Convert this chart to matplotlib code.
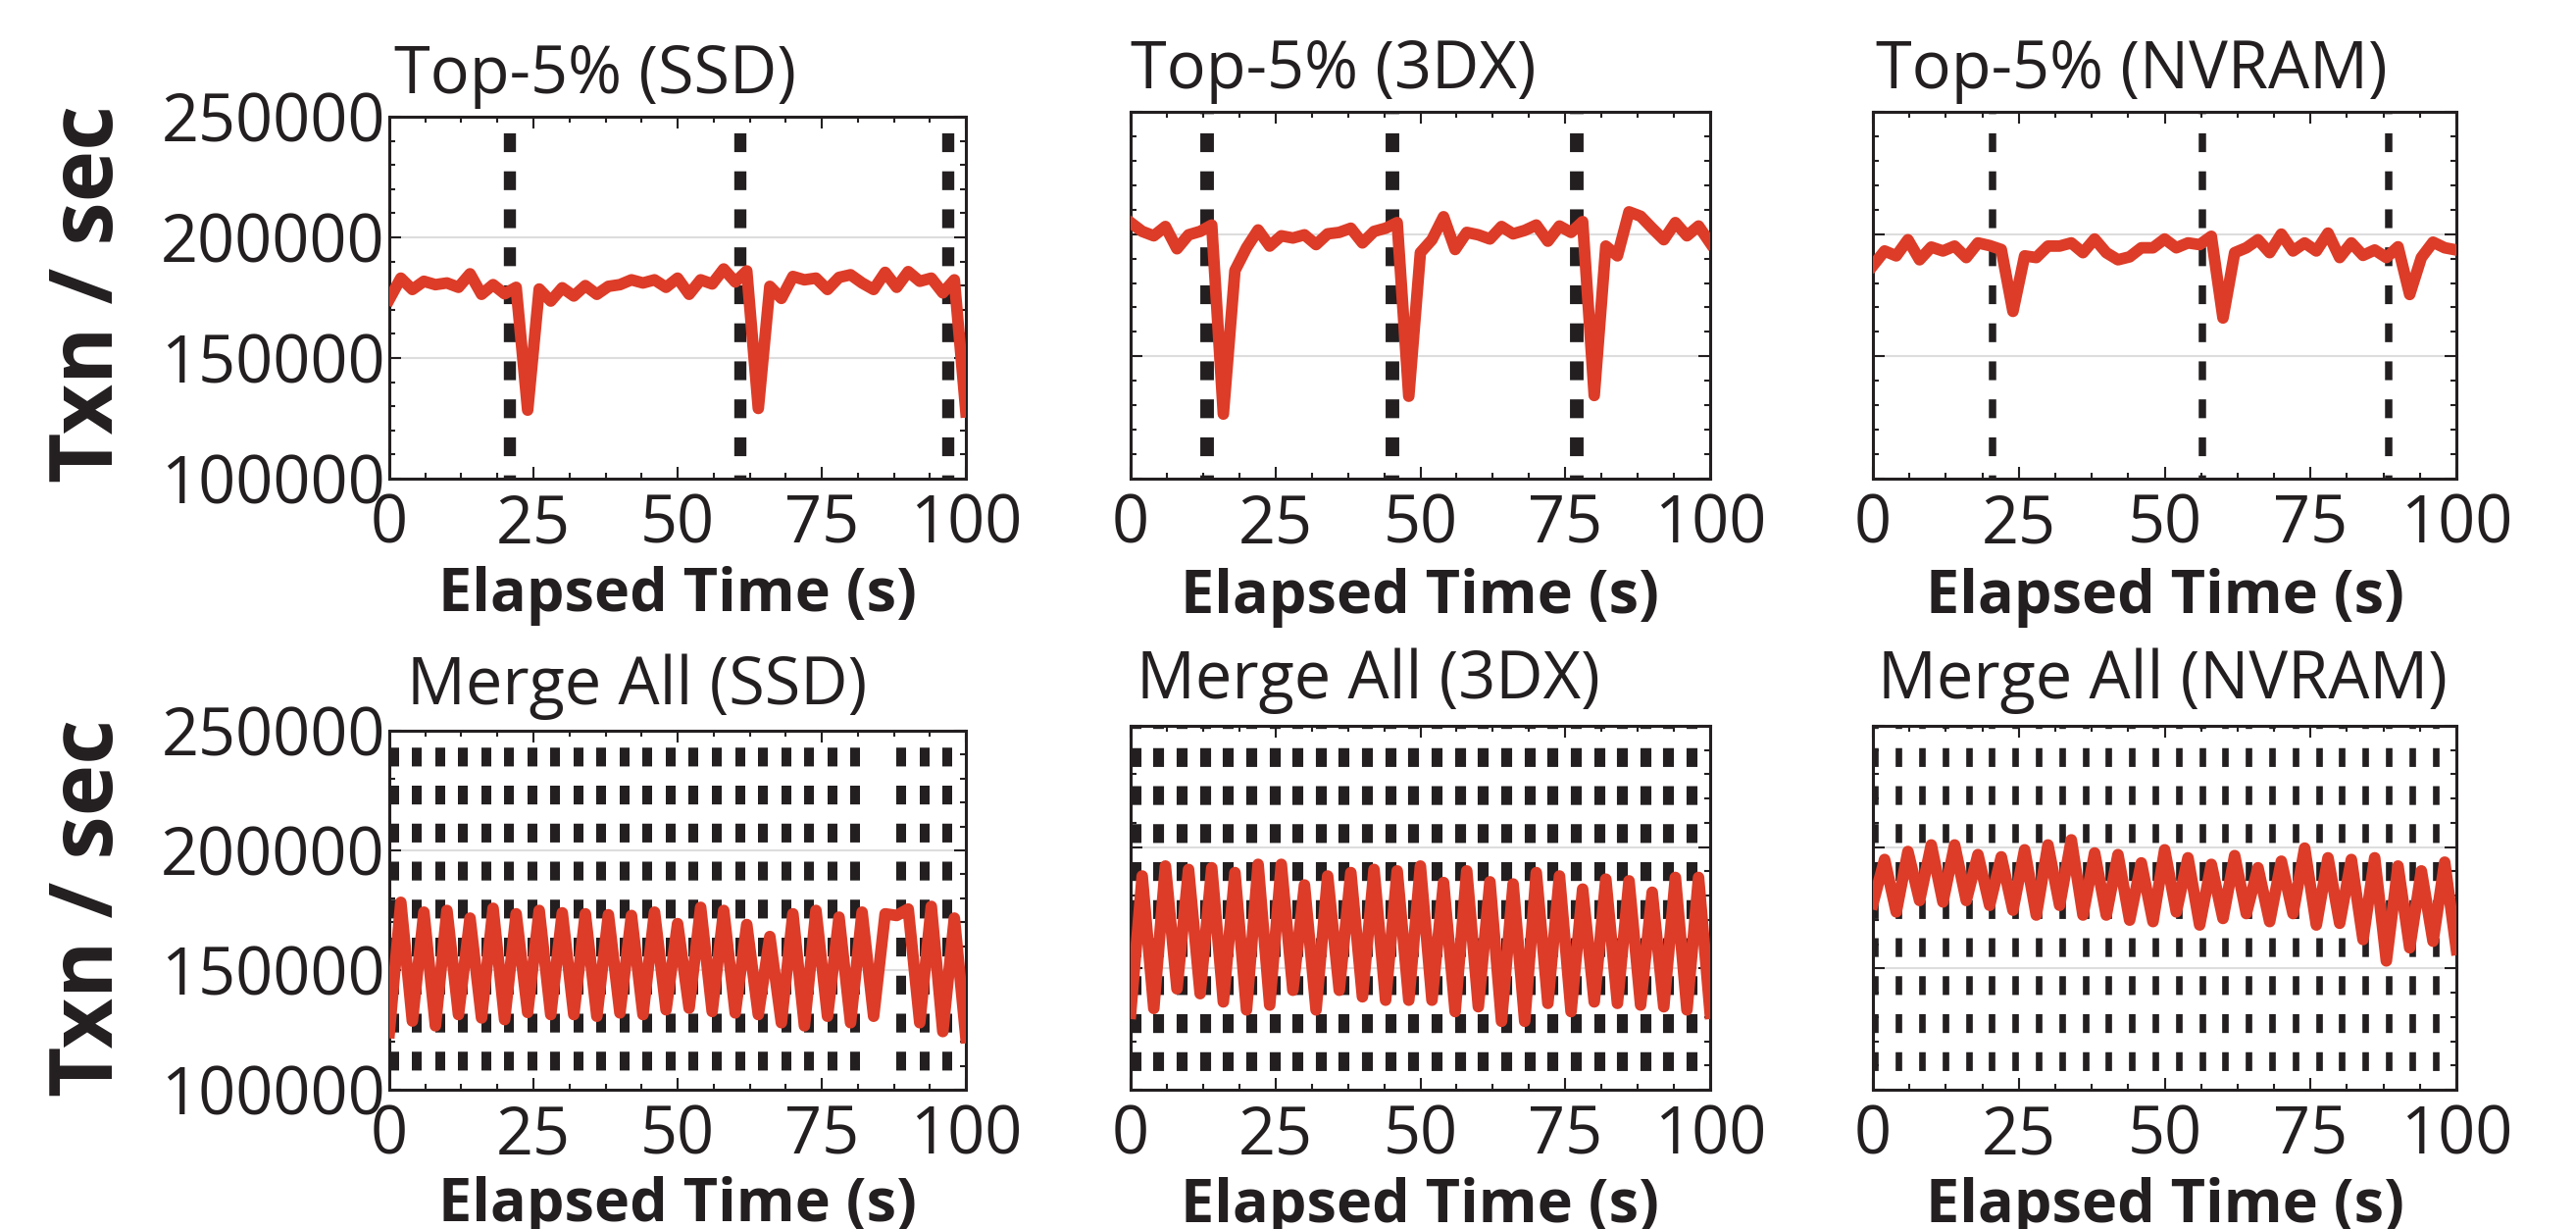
import matplotlib
matplotlib.use("Agg")
import matplotlib.pyplot as plt
from matplotlib.ticker import MultipleLocator

# ---------------- dados ----------------
elapsed = list(range(0, 101, 2))

top_ssd = [174300, 183100, 178400, 181800, 180400, 181100, 179300, 184900, 176400, 180400,
           176600, 179300, 128400, 178600, 173600, 179100, 175700, 180000, 176400, 179700,
           180400, 182400, 181100, 182400, 179300, 183100, 176400, 182400, 180700, 186900,
           181500, 186100, 129100, 179700, 174700, 183800, 182400, 183100, 178400, 183400,
           184500, 181100, 178400, 185500, 179300, 185800, 181800, 183100, 177000, 182400,
           127700]
top_3dx = [204700, 201100, 199300, 203100, 194000, 199700, 201100, 203700, 126400, 185100,
           194400, 201700, 195100, 199300, 198400, 199700, 195700, 200100, 200700, 202400,
           196400, 201100, 202400, 204700, 133700, 192400, 197700, 207100, 193700, 200700,
           199700, 198000, 203100, 200100, 201500, 203700, 197100, 203300, 200700, 205100,
           134000, 195100, 191100, 209100, 207300, 202400, 197700, 204700, 199300, 203300,
           196400]
top_nvram = [187100, 193100, 191100, 197700, 189500, 194700, 193100, 195100, 190400, 196400,
             195300, 193700, 168400, 191100, 190400, 195100, 195100, 196400, 192400, 198000,
             192400, 189500, 190700, 194400, 194400, 198000, 194400, 196400, 195700, 199100,
             165700, 192400, 194400, 197700, 192400, 200000, 193100, 196400, 193100, 200400,
             190400, 196400, 191300, 193500, 190400, 194800, 175300, 190400, 196700, 194400,
             193500]

merge_ssd = [123900, 178300, 128700, 174200, 126700, 174900, 131400, 171700, 130000, 175800,
             129300, 173500, 132300, 174900, 131400, 173900, 131400, 173500, 130700, 173100,
             132100, 172800, 131400, 174200, 133400, 169400, 134100, 176200, 132700, 174900,
             132100, 169000, 131400, 164000, 128000, 173500, 126700, 174900, 130700, 172100,
             128000, 174200, 130700, 173500, 172800, 175500, 128000, 176600, 124300, 171700,
             121800]
merge_3dx = [131500, 188100, 133500, 192200, 141600, 190800, 139600, 191500, 136200, 189500,
             132900, 192900, 134900, 192900, 141000, 184400, 132900, 188100, 141000, 189500,
             138300, 190800, 136900, 190200, 136900, 192200, 136900, 185400, 132200, 190200,
             134200, 185700, 128200, 184800, 128200, 189500, 135600, 188100, 132200, 182700,
             136200, 186800, 135600, 186100, 134900, 181400, 134200, 187500, 132900, 187500,
             131500]
merge_nvram = [176700, 194900, 173300, 198200, 178000, 200900, 177400, 200900, 178000, 196900,
               176000, 196000, 174000, 198900, 172000, 200900, 176000, 203000, 172000, 197600,
               172000, 196900, 169900, 193500, 169300, 198900, 173300, 195600, 167900, 192900,
               170600, 196500, 172600, 191500, 169300, 194200, 172600, 199600, 167900, 195600,
               168600, 194900, 161900, 195600, 153100, 192200, 158500, 190200, 161200, 193800,
               157800]

# instantes das linhas tracejadas verticais
marks_top_ssd = [21.0, 60.8, 97.0]
marks_top_3dx = [13.2, 45.1, 77.0]
marks_top_nvram = [20.5, 56.4, 88.4]
marks_merge_ssd = [0.8, 4.8, 8.8, 12.8, 16.8, 20.8, 24.8, 28.8, 32.8, 36.8, 40.8, 44.8,
                   48.8, 52.8, 56.8, 60.8, 64.8, 68.8, 72.8, 76.8, 80.8, 88.8, 92.8, 96.8]
marks_merge_3dx = [0.8, 4.8, 8.8, 12.8, 16.8, 20.8, 24.8, 28.8, 32.8, 36.8, 40.8, 44.8,
                   48.8, 52.8, 56.8, 60.8, 64.8, 68.8, 72.8, 76.8, 80.8, 84.8, 88.8, 92.8, 96.8]
marks_merge_nvram = [0.4, 4.4, 8.4, 12.4, 16.4, 20.4, 24.4, 28.4, 32.4, 36.4, 40.4, 44.4,
                     48.4, 52.4, 56.4, 60.4, 64.4, 68.4, 72.4, 76.4, 80.4, 84.4, 88.4, 92.4, 96.4]

titles = ["Top-5% (SSD)", "Top-5% (3DX)", "Top-5% (NVRAM)",
          "Merge All (SSD)", "Merge All (3DX)", "Merge All (NVRAM)"]
series = [top_ssd, top_3dx, top_nvram, merge_ssd, merge_3dx, merge_nvram]
marks = [marks_top_ssd, marks_top_3dx, marks_top_nvram,
         marks_merge_ssd, marks_merge_3dx, marks_merge_nvram]

# ---------------- estilo ----------------
RED = "#dc3c28"
BLACK = "#231f20"
plt.rcParams["font.family"] = ["Open Sans", "DejaVu Sans"]
plt.rcParams["lines.scale_dashes"] = False

W, H = 2627, 1253
fig = plt.figure(figsize=(W / 100, H / 100), dpi=100)

# caixas dos eixos em pixels: (esquerda, direita, topo, base)
boxes = [(397, 985, 119, 488), (1153, 1744, 114, 488), (1910, 2505, 114, 488),
         (397, 985, 745, 1111), (1153, 1744, 740, 1111), (1910, 2505, 740, 1111)]
dash_w = [8.9, 10.0, 5.4, 7.2, 8.0, 4.8]      # largura das linhas tracejadas (pt)
dash_off = [11.4, 11.4, 11.4, 13.8, 13.8, 13.8]
title_dx = [0.008, 0.0, 0.005, 0.03, 0.01, 0.008]

for i in range(6):
    x0, x1, top, bot = boxes[i]
    ax = fig.add_axes([x0 / W, 1 - bot / H, (x1 - x0) / W, (bot - top) / H])

    for m in marks[i]:
        ax.axvline(m, color=BLACK, lw=dash_w[i], linestyle=(dash_off[i], (13.8, 14.1)),
                   dash_capstyle="butt", zorder=2)
    ax.plot(elapsed, series[i], color=RED, lw=8.5, zorder=3)

    ax.set_xlim(0, 100)
    ax.set_ylim(100000, 250000)
    ax.xaxis.set_major_locator(MultipleLocator(25))
    ax.xaxis.set_minor_locator(MultipleLocator(6.25))
    ax.yaxis.set_major_locator(MultipleLocator(50000))
    ax.yaxis.set_minor_locator(MultipleLocator(10000))
    ax.grid(axis="y", which="major", color="#dddddd", lw=1.5, zorder=1)

    ax.tick_params(which="both", direction="in", top=True, right=True,
                   color=BLACK, labelcolor=BLACK, labelsize=48)
    ax.tick_params(which="major", length=8.5, width=1.5)
    ax.tick_params(which="minor", length=4.5, width=1.5)
    ax.tick_params(axis="x", pad=10)
    ax.tick_params(axis="y", pad=3)
    for s in ax.spines.values():
        s.set_linewidth(2.2)
        s.set_color(BLACK)

    if i % 3 != 0:
        ax.set_yticklabels([])

    ax.text(title_dx[i], 1.065 if i < 3 else 1.075, titles[i], transform=ax.transAxes,
            fontsize=48, color=BLACK, ha="left", va="baseline")
    ax.text(0.5, -0.365, "Elapsed Time (s)", transform=ax.transAxes,
            fontsize=44, fontweight="bold", color=BLACK, ha="center", va="baseline")

# rotulo do eixo y (so na coluna da esquerda)
for yc in (300, 925):
    fig.text(92 / W, 1 - yc / H, "Txn / sec", rotation=90, ha="center", va="center",
             fontsize=64, fontweight="bold", color=BLACK)

fig.savefig("out.png", dpi=100, facecolor="white")
